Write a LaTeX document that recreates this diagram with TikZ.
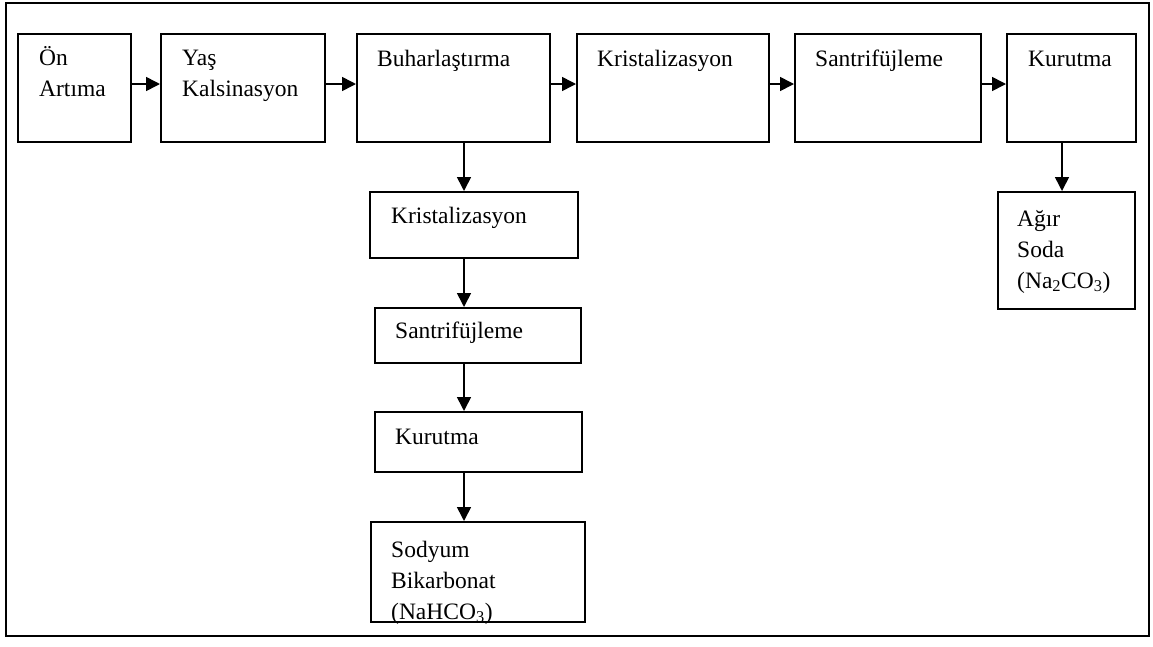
\documentclass[tikz,border=0pt]{standalone}
\usepackage{fontspec}
\setmainfont{Liberation Serif}
\usetikzlibrary{arrows.meta}
\begin{document}
\begin{tikzpicture}[x=1pt,y=-1pt,
  box/.style={draw,line width=1.8pt,inner sep=0,anchor=north west},
  lbl/.style={anchor=north west,inner sep=0,align=left,font=\fontsize{23.5}{31}\selectfont},
  arr/.style={line width=1.6pt,-{Triangle[length=14pt,width=14pt]}}]
\useasboundingbox (0,0) rectangle (1153,646);
\draw[line width=2.4pt] (6,3) rectangle (1149,636);
% top row boxes
\node[box,minimum width=113pt,minimum height=108pt] (b1) at (17,33) {};
\node[box,minimum width=164pt,minimum height=108pt] (b2) at (160,33) {};
\node[box,minimum width=193pt,minimum height=108pt] (b3) at (356,33) {};
\node[box,minimum width=192pt,minimum height=108pt] (b4) at (576,33) {};
\node[box,minimum width=186pt,minimum height=108pt] (b5) at (794,33) {};
\node[box,minimum width=129pt,minimum height=108pt] (b6) at (1006,33) {};
% column boxes
\node[box,minimum width=208pt,minimum height=66pt] (k1) at (369,191) {};
\node[box,minimum width=206pt,minimum height=55pt] (k2) at (374,307) {};
\node[box,minimum width=207pt,minimum height=60pt] (k3) at (374,411) {};
\node[box,minimum width=214pt,minimum height=100pt] (k4) at (370,521) {};
\node[box,minimum width=137pt,minimum height=117pt] (a1) at (997,191) {};
% labels
\node[lbl] (t1) at (39,43.3) {\strut Ön\\\strut Artıma};
\node[lbl] (t2) at (182,43.3) {\strut Yaş\\\strut Kalsinasyon};
\node[lbl] (t3) at (377,44.3) {\strut Buharlaştırma};
\node[lbl] (t4) at (597,44.3) {\strut Kristalizasyon};
\node[lbl] (t5) at (815,44.3) {\strut Santrifüjleme};
\node[lbl] (t6) at (1028,44.3) {\strut Kurutma};
\node[lbl] (tk1) at (391,201.3) {\strut Kristalizasyon};
\node[lbl] (tk2) at (395,316.3) {\strut Santrifüjleme};
\node[lbl] (tk3) at (395,422.3) {\strut Kurutma};
\node[lbl] (tk4) at (391,535.3) {\strut Sodyum\\\strut Bikarbonat\\\strut (NaHCO\textsubscript{3})};
\node[lbl] (ta) at (1017,204.3) {\strut Ağır\\\strut Soda\\\strut (Na\textsubscript{2}CO\textsubscript{3})};
% arrows
\coordinate (ay) at (0,84);
\coordinate (cx) at (464,0);
\coordinate (ax) at (1062,0);
\draw[arr] (b1.east |- ay) -- (b2.west |- ay);
\draw[arr] (b2.east |- ay) -- (b3.west |- ay);
\draw[arr] (b3.east |- ay) -- (b4.west |- ay);
\draw[arr] (b4.east |- ay) -- (b5.west |- ay);
\draw[arr] (b5.east |- ay) -- (b6.west |- ay);
\draw[arr] (b3.south -| cx) -- (k1.north -| cx);
\draw[arr] (k1.south -| cx) -- (k2.north -| cx);
\draw[arr] (k2.south -| cx) -- (k3.north -| cx);
\draw[arr] (k3.south -| cx) -- (k4.north -| cx);
\draw[arr] (b6.south -| ax) -- (a1.north -| ax);
\end{tikzpicture}
\end{document}
